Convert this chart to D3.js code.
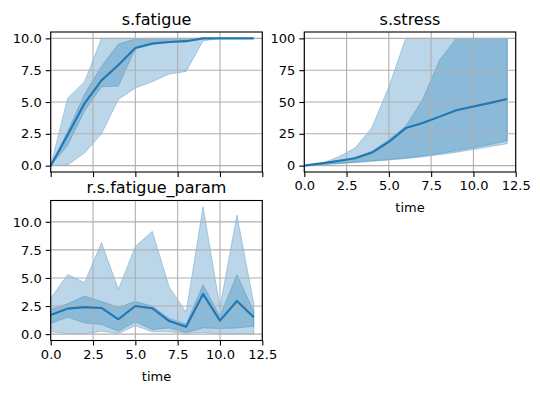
<!DOCTYPE html>
<html><head><meta charset="utf-8">
<script src="https://cdn.jsdelivr.net/npm/d3@7"></script>
<style>body{margin:0;background:#fff}svg{display:block}text{font-family:"DejaVu Sans",sans-serif;fill:#000}</style>
</head><body>
<script>
const time = [0,1,2,3,4,5,6,7,8,9,10,11,12];
const xTicks = [0,2.5,5,7.5,10,12.5];

const fatigueMean    = [0,2.4,4.9,6.7,7.9,9.25,9.6,9.72,9.78,10,10,10,10];
const fatigueOuterLo = [0,0.05,1.0,2.5,5.2,6.1,6.6,7.2,7.4,9.8,10,10,10];
const fatigueOuterHi = [0,5.3,6.6,10,10,10,10,10,10,10,10,10,10];
const fatigueInnerLo = [0,1.6,4.3,6.2,6.25,9.2,9.5,9.7,9.75,10,10,10,10];
const fatigueInnerHi = [0,2.7,5.6,7.8,9.55,9.95,10,10,10,10,10,10,10];
const fatigueYTicks  = [0,2.5,5,7.5,10];

const stressMean    = [0,1.8,3.7,5.8,10.3,18.6,29.5,33.5,38.5,43.5,46.5,49.3,52.3];
const stressOuterLo = [0,0.8,1.5,2.4,3.4,4.4,5.5,6.9,8.6,10.5,12.6,15,17.2];
const stressOuterHi = [0,1.5,6.8,13.8,30,62,100,100,100,100,100,100,100];
const stressInnerLo = [0,0.9,1.7,2.7,3.8,4.8,6.1,7.6,9.6,11.6,14.0,16.6,19.5];
const stressInnerHi = [0,1.9,4.0,6.4,11.2,20.5,31,52,83,100,100,100,100];
const stressYTicks  = [0,25,50,75,100];

const paramMean    = [1.7,2.27,2.4,2.33,1.32,2.5,2.3,1.16,0.66,3.58,1.2,2.95,1.5];
const paramOuterLo = [0.2,0.05,0.02,0.25,0.05,0.75,0.2,0.2,0.05,0.15,0.0,0.0,0.0];
const paramOuterHi = [3.2,5.3,4.6,8.15,4.0,7.8,9.15,4.2,1.95,11.35,2.4,10.6,2.7];
const paramInnerLo = [0.95,1.5,1.0,0.85,0.25,1.1,0.4,0.55,0.15,0.55,0.5,0.55,0.7];
const paramInnerHi = [2.2,2.7,3.4,2.9,2.4,2.9,2.5,1.4,0.9,4.4,1.6,5.3,2.0];
const paramYTicks  = [0,2.5,5,7.5,10];

const W = 540, H = 393;
const svg = d3.select("body").append("svg").attr("width", W).attr("height", H);
const C = "#1f77b4";

function panel(o) {
  const x = d3.scaleLinear().domain([0,12.5]).range([o.l, o.r]);
  const y = d3.scaleLinear().domain(o.yd).range([o.b, o.t]);
  const g = svg.append("g");
  const area = (lo, hi) => d3.area().x((d,i)=>x(time[i])).y0((d,i)=>y(lo[i])).y1((d,i)=>y(hi[i]))(time);
  [[o.olo,o.ohi],[o.ilo,o.ihi]].forEach(([lo,hi]) => {
    g.append("path").attr("d", area(lo,hi)).attr("fill", C).attr("fill-opacity", 0.3)
     .attr("stroke", C).attr("stroke-opacity", 0.3).attr("stroke-width", 1);
  });
  // grid
  xTicks.forEach(v => g.append("line").attr("x1", x(v)).attr("x2", x(v)).attr("y1", o.t).attr("y2", o.b)
     .attr("stroke", "#b0b0b0").attr("stroke-width", 1.1));
  o.yt.forEach(v => g.append("line").attr("x1", o.l).attr("x2", o.r).attr("y1", y(v)).attr("y2", y(v))
     .attr("stroke", "#b0b0b0").attr("stroke-width", 1.1));
  g.append("path").attr("d", d3.line().x((d,i)=>x(time[i])).y((d,i)=>y(o.mean[i]))(time))
   .attr("fill","none").attr("stroke", C).attr("stroke-width", 2.1).attr("stroke-linejoin","round");
  // axes
  const xa = d3.axisBottom(x).tickValues(xTicks).tickSize(5).tickPadding(4).tickFormat(o.xlab ? d3.format(".1f") : "");
  const ya = d3.axisLeft(y).tickValues(o.yt).tickSize(5).tickPadding(4).tickFormat(d3.format(o.yf));
  const gx = g.append("g").attr("transform", `translate(0,${o.b})`).call(xa);
  const gy = g.append("g").attr("transform", `translate(${o.l},0)`).call(ya);
  [gx, gy].forEach(a => {
    a.select(".domain").remove();
    a.selectAll("line").attr("stroke", "#000").attr("stroke-width", 1.1);
    a.selectAll("text").attr("font-size", 13).attr("font-family", "DejaVu Sans").attr("fill", "#000");
  });
  g.append("rect").attr("x", o.l).attr("y", o.t).attr("width", o.r-o.l).attr("height", o.b-o.t)
   .attr("fill","none").attr("stroke","#000").attr("stroke-width",1.1);
  g.append("text").attr("x", (o.l+o.r)/2).attr("y", o.t-7.5).attr("text-anchor","middle")
   .attr("font-size", 16).text(o.title);
  if (o.xlab) g.append("text").attr("x", (o.l+o.r)/2).attr("y", o.b+40).attr("text-anchor","middle")
   .attr("font-size", 13).text("time");
}

panel({l:50.7, r:262.3, t:32, b:172, yd:[-0.5,10.5], yt:fatigueYTicks, yf:".1f", title:"s.fatigue",
  mean:fatigueMean, olo:fatigueOuterLo, ohi:fatigueOuterHi, ilo:fatigueInnerLo, ihi:fatigueInnerHi, xlab:false});
panel({l:304.3, r:515.7, t:32, b:172, yd:[-5,105], yt:stressYTicks, yf:"d", title:"s.stress",
  mean:stressMean, olo:stressOuterLo, ohi:stressOuterHi, ilo:stressInnerLo, ihi:stressInnerHi, xlab:true});
panel({l:50.7, r:262.3, t:200.5, b:340.5, yd:[-0.57,11.9], yt:paramYTicks, yf:".1f", title:"r.s.fatigue_param",
  mean:paramMean, olo:paramOuterLo, ohi:paramOuterHi, ilo:paramInnerLo, ihi:paramInnerHi, xlab:true});
</script>
</body></html>
